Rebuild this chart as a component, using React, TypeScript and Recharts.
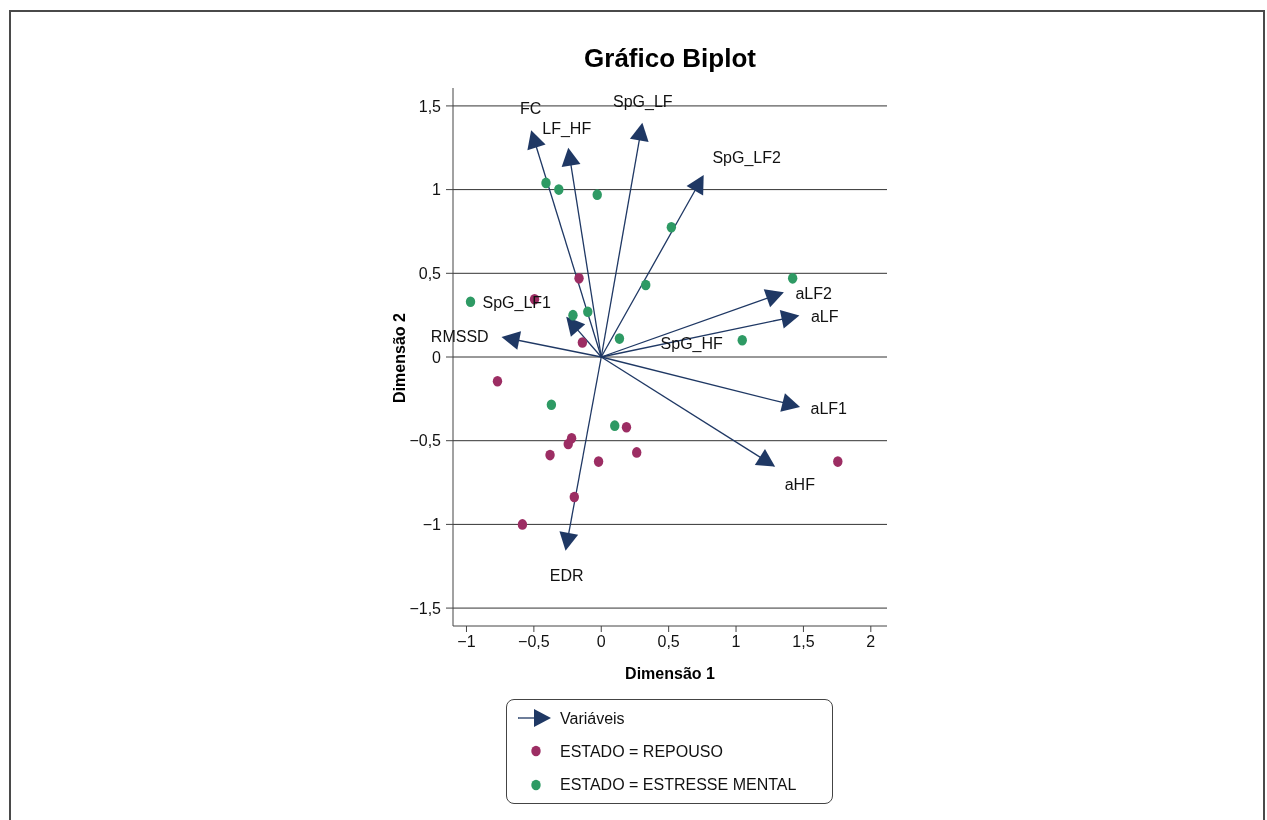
import React from 'react';
import { ScatterChart, Scatter, XAxis, YAxis, CartesianGrid, ReferenceLine } from 'recharts';

// Variable vectors (arrow tips) in biplot coordinates
const varNames = ['FC', 'LF_HF', 'SpG_LF', 'SpG_LF2', 'aLF2', 'aLF', 'SpG_HF', 'SpG_LF1', 'RMSSD', 'aLF1', 'aHF', 'EDR'];
const varX = [-0.52, -0.245, 0.305, 0.76, 1.355, 1.47, 0, -0.26, -0.74, 1.475, 1.29, -0.265];
const varY = [1.355, 1.25, 1.4, 1.087, 0.387, 0.248, 0, 0.24, 0.12, -0.298, -0.655, -1.157];
// Label positions for the variable names
const labelX = [-0.523, -0.256, 0.308, 1.079, 1.576, 1.658, 0.671, -0.627, -1.05, 1.688, 1.473, -0.256];
const labelY = [1.485, 1.367, 1.526, 1.193, 0.378, 0.242, 0.081, 0.325, 0.123, -0.306, -0.764, -1.305];

// ESTADO = REPOUSO
const repousoX = [-0.165, -0.495, -0.14, -0.77, -0.22, -0.245, -0.38, -0.02, 0.187, 0.263, -0.2, -0.585, 1.755];
const repousoY = [0.47, 0.345, 0.087, -0.145, -0.486, -0.52, -0.586, -0.625, -0.42, -0.57, -0.836, -1.0, -0.625];
// ESTADO = ESTRESSE MENTAL
const estresseX = [-0.41, -0.315, -0.03, 0.52, 0.33, 1.42, -0.97, -0.21, -0.1, 0.135, 1.046, -0.37, 0.1];
const estresseY = [1.04, 1.0, 0.97, 0.775, 0.43, 0.47, 0.33, 0.25, 0.27, 0.11, 0.1, -0.285, -0.41];

const xTicks = [-1, -0.5, 0, 0.5, 1, 1.5, 2];
const yTicks = [-1.5, -1, -0.5, 0, 0.5, 1, 1.5];

const NAVY = '#1f3864';
const MAGENTA = '#9c2d63';
const GREEN = '#2e9a64';
const FONT = '"Liberation Sans", Arial, sans-serif';

const repouso = repousoX.map((x, i) => ({ x, y: repousoY[i] }));
const estresse = estresseX.map((x, i) => ({ x, y: estresseY[i] }));
const labels = varNames.map((name, i) => ({ x: labelX[i], y: labelY[i], name }));

const fmt = (v: number) => (v < 0 ? '\u2212' : '') + String(Math.abs(v)).replace('.', ',');

const ArrowShape = (p: any) => {
  const { x1, y1, x2, y2 } = p;
  const dx = x2 - x1;
  const dy = y2 - y1;
  const len = Math.sqrt(dx * dx + dy * dy);
  if (len < 1) return <g />;
  const c = dx / len;
  const s = dy / len;
  const L = 18;
  const W = 9.5;
  const bx = x2 - L * c;
  const by = y2 - L * s;
  const pts = `${x2},${y2} ${bx - W * s},${by + W * c} ${bx + W * s},${by - W * c}`;
  return (
    <g>
      <line x1={x1} y1={y1} x2={bx + 2 * c} y2={by + 2 * s} stroke={NAVY} strokeWidth={1.3} />
      <polygon points={pts} fill={NAVY} />
    </g>
  );
};

const Dot = (color: string) => (p: any) => (
  <ellipse cx={p.cx} cy={p.cy} rx={4.7} ry={5.3} fill={color} />
);

const LabelShape = (p: any) => (
  <text
    x={p.cx}
    y={p.cy}
    textAnchor="middle"
    dominantBaseline="central"
    fontSize={16}
    fontFamily={FONT}
    fill="#111"
  >
    {p.payload.name}
  </text>
);

export default function App() {
  return (
    <div style={{ position: 'relative', width: 1251, height: 804, fontFamily: FONT }}>
      <div
        style={{
          position: 'fixed',
          left: 9,
          top: 10,
          width: 1256,
          height: 830,
          border: '2px solid #4a4a4a',
          boxSizing: 'border-box',
          pointerEvents: 'none',
        }}
      />
      <div
        style={{
          position: 'absolute',
          left: 0,
          width: 1324,
          top: 34,
          textAlign: 'center',
          fontWeight: 'bold',
          fontSize: 26,
          color: '#000',
          lineHeight: '32px',
        }}
      >
        Gráfico Biplot
      </div>
      <div
        style={{
          position: 'absolute',
          left: 562,
          width: 200,
          top: 656,
          textAlign: 'center',
          fontWeight: 'bold',
          fontSize: 16,
          lineHeight: '20px',
        }}
      >
        Dimensão 1
      </div>
      <div
        style={{
          position: 'absolute',
          left: 292,
          width: 200,
          top: 340,
          textAlign: 'center',
          fontWeight: 'bold',
          fontSize: 16,
          lineHeight: '20px',
          transform: 'rotate(-90deg)',
        }}
      >
        Dimensão 2
      </div>
      <ScatterChart
        width={1251}
        height={804}
        margin={{ top: 80, right: 372, bottom: 146, left: 385 }}
      >
        <CartesianGrid vertical={false} horizontalValues={yTicks} stroke="#333" strokeWidth={1} />
        <XAxis
          type="number"
          dataKey="x"
          domain={[-1.1, 2.12]}
          ticks={xTicks}
          tickFormatter={fmt}
          height={40}
          tickSize={6}
          tickMargin={4}
          stroke="#444"
          tick={{ fill: '#111', fontSize: 16, fontFamily: FONT }}
        />
        <YAxis
          type="number"
          dataKey="y"
          domain={[-1.607, 1.607]}
          ticks={yTicks}
          tickFormatter={fmt}
          width={60}
          tickSize={7}
          tickMargin={5}
          stroke="#444"
          tick={{ fill: '#111', fontSize: 16, fontFamily: FONT }}
        />
        {varNames.map((n, i) => (
          <ReferenceLine
            key={n}
            segment={[
              { x: 0, y: 0 },
              { x: varX[i], y: varY[i] },
            ]}
            shape={ArrowShape}
            ifOverflow="visible"
          />
        ))}
        <Scatter data={repouso} shape={Dot(MAGENTA)} isAnimationActive={false} />
        <Scatter data={estresse} shape={Dot(GREEN)} isAnimationActive={false} />
        <Scatter data={labels} shape={LabelShape} isAnimationActive={false} />
      </ScatterChart>
      <div
        style={{
          position: 'absolute',
          left: 498,
          top: 691,
          width: 327,
          height: 105,
          border: '1px solid #444',
          borderRadius: 8,
          boxSizing: 'border-box',
          background: '#fff',
        }}
      >
        <svg width={325} height={103} style={{ position: 'absolute', left: 0, top: 0 }}>
          <line x1={11} y1={18} x2={36} y2={18} stroke={NAVY} strokeWidth={1.3} />
          <polygon points="44,18 27,9 27,27" fill={NAVY} />
          <text x={53} y={18} dominantBaseline="central" fontSize={16} fontFamily={FONT} fill="#111">
            Variáveis
          </text>
          <ellipse cx={29} cy={51} rx={4.7} ry={5.3} fill={MAGENTA} />
          <text x={53} y={51} dominantBaseline="central" fontSize={16} fontFamily={FONT} fill="#111">
            ESTADO = REPOUSO
          </text>
          <ellipse cx={29} cy={85} rx={4.7} ry={5.3} fill={GREEN} />
          <text x={53} y={84} dominantBaseline="central" fontSize={16} fontFamily={FONT} fill="#111">
            ESTADO = ESTRESSE MENTAL
          </text>
        </svg>
      </div>
    </div>
  );
}
